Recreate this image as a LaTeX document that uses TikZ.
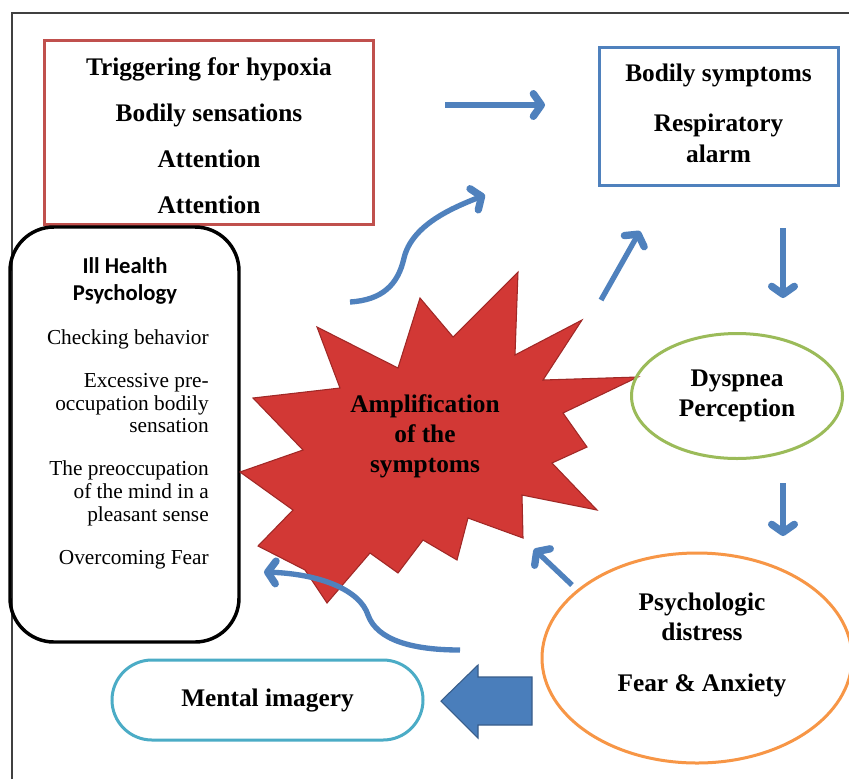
\documentclass[tikz,border=0pt]{standalone}
\usepackage{fontspec}
\setmainfont{Liberation Serif}
\newfontfamily\calibrifont{Carlito}
\usetikzlibrary{arrows.meta,shapes.geometric}
\definecolor{redboxc}{HTML}{C0504D}
\definecolor{blueboxc}{HTML}{4F81BD}
\definecolor{greenc}{HTML}{9BBB59}
\definecolor{orangec}{HTML}{F79646}
\definecolor{tealc}{HTML}{4BACC6}
\definecolor{arrowc}{HTML}{4F81BD}
\definecolor{fatarrowc}{HTML}{4A7EBB}
\definecolor{fatarrowline}{HTML}{385D8A}
\definecolor{starfill}{RGB}{210,56,53}
\definecolor{starline}{RGB}{160,40,38}
\definecolor{framec}{HTML}{404040}
\begin{document}
\begin{tikzpicture}[x=0.75pt,y=-0.75pt,
  boldtxt/.style={font=\bfseries\fontsize{19}{22.5}\selectfont, align=center, inner sep=0pt},
  boxline/.style={line width=2.25pt},
  arr/.style={draw=arrowc, line width=4pt,
    -{Straight Barb[length=6pt,width=17pt,line width=5.5pt,round]}},
]
\useasboundingbox (0,0) rectangle (849,779);
\fill[white] (0,0) rectangle (849,779);
% frame
\draw[framec, line width=1.1pt] (12,779) -- (12,13) -- (849,13);

% red box
\node[draw=redboxc, boxline, minimum width=246.75pt, minimum height=138pt, inner sep=0pt]
  (trig) at (208.5,132) {};
\node[font=\bfseries\fontsize{19}{34.5}\selectfont, align=center, inner sep=0pt]
  (trigtxt) at (209,136) {Triggering for hypoxia\\Bodily sensations\\Attention\\Attention};

% blue box
\node[draw=blueboxc, boxline, minimum width=179.25pt, minimum height=103.5pt, inner sep=0pt]
  (bodily) at (718.5,116) {};
\node[font=\bfseries\fontsize{19}{23.25}\selectfont, align=center, inner sep=0pt]
  (bodilytxt) at (718.5,113) {Bodily symptoms\\[14.25pt]Respiratory\\alarm};

% black rounded box
\node[draw=black, line width=2.6pt, rounded corners=33pt, minimum width=171.75pt,
      minimum height=311.25pt, inner sep=0pt] (ill) at (124.5,434.5) {};
\node[font=\calibrifont\bfseries\fontsize{17}{20.25}\selectfont, align=center, anchor=north,
      inner sep=0pt] (illtitle) at (125,257) {Ill Health\\Psychology};
\node[font=\fontsize{16}{17}\selectfont, align=right, anchor=north east, inner sep=0pt]
  (illlist) at (209,329.5)
  {Checking behavior\\[15.25pt]Excessive pre-\\occupation bodily\\sensation\hspace*{3.5pt}\\[15.25pt]The preoccupation\\of the mind in a\\pleasant sense\\[15.25pt]Overcoming Fear};

% star
\filldraw[fill=starfill, draw=starline, line width=0.8pt, line join=miter]
  (317,327) -- (398,368) -- (420,298) -- (453,337) -- (518,272) -- (515,355) -- (582,320)
  -- (543,380) -- (638,377) -- (563,413) -- (587,447) -- (552,463) -- (597,510) -- (522,495)
  -- (523,538) -- (468,518) -- (457,560) -- (423,540) -- (398,573) -- (370,553) -- (327,603)
  -- (305,570) -- (258,546) -- (293,510) -- (240,472) -- (303,450) -- (253,398) -- (340,388)
  -- cycle;
\node[boldtxt] (amp) at (425,436) {Amplification\\of the\\symptoms};

% green ellipse
\node[ellipse, draw=greenc, boxline, minimum width=158.25pt, minimum height=93.75pt,
      inner sep=0pt, boldtxt] (dysp) at (737,396) {Dyspnea\\Perception};

% orange ellipse
\node[ellipse, draw=orangec, boxline, minimum width=232.5pt, minimum height=157.5pt,
      inner sep=0pt] (psy) at (697,658) {};
\node[font=\bfseries\fontsize{19}{22.5}\selectfont, align=center, inner sep=0pt]
  (psytxt) at (702,645) {Psychologic\\distress\\[15.75pt]Fear \& Anxiety};

% mental imagery
\node[draw=tealc, boxline, rounded corners=30pt, minimum width=233.25pt, minimum height=60pt,
      inner sep=0pt, font=\bfseries\fontsize{19}{22.5}\selectfont] (mental) at (267.5,700)
  {Mental imagery};

% arrows
\coordinate (a1s) at (445,105); \coordinate (a1e) at (545,105);
\draw[arr] (a1s) -- (a1e);
\coordinate (a2s) at (350,302); \coordinate (a2e) at (485,195);
\draw[arr] (a2s) .. controls (382,300) and (398,285) .. (404,258)
  .. controls (412,225) and (452,208) .. (a2e);
\coordinate (a3s) at (601,300); \coordinate (a3e) at (640,231);
\draw[arr] (a3s) -- (a3e);
\coordinate (a4s) at (783,228); \coordinate (a4e) at (783,298);
\draw[arr] (a4s) -- (a4e);
\coordinate (a5s) at (783,483); \coordinate (a5e) at (783,536);
\draw[arr] (a5s) -- (a5e);
\coordinate (a6s) at (572,585); \coordinate (a6e) at (534,549);
\draw[arr] (a6s) -- (a6e);
\coordinate (a7s) at (460,650); \coordinate (a7e) at (264,572);
\draw[arr] (a7s) .. controls (412,650) and (377,640) .. (368,615)
  .. controls (360,590) and (320,574) .. (a7e);

% fat arrow
\filldraw[fill=fatarrowc, draw=fatarrowline, line width=0.8pt, line join=miter]
  (441,701) -- (478,665) -- (478,677) -- (532,677) -- (532,725) -- (478,725) -- (478,738) -- cycle;
\end{tikzpicture}
\end{document}
